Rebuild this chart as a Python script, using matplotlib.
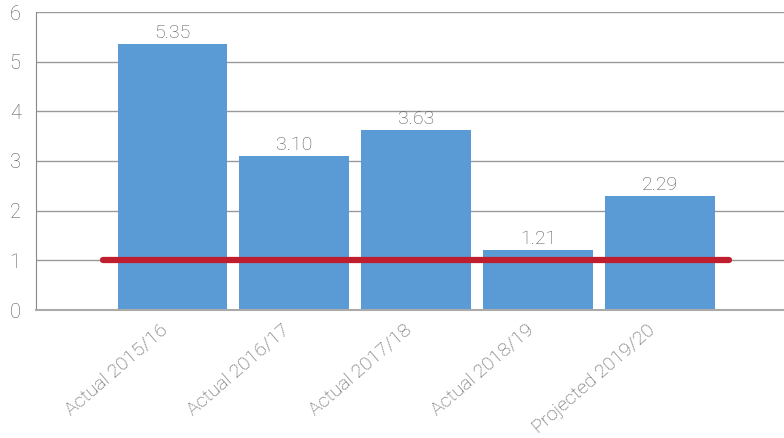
import numpy as np
import matplotlib.pyplot as plt
import matplotlib.transforms as mtransforms

# chart data
categories = ["Actual 2015/16", "Actual 2016/17", "Actual 2017/18",
              "Actual 2018/19", "Projected 2019/20"]
values = [5.35, 3.10, 3.63, 1.21, 2.29]
threshold = 1.0
yticks = [0, 1, 2, 3, 4, 5, 6]

plt.rcParams['font.family'] = ['Roboto', 'DejaVu Sans']
plt.rcParams['font.weight'] = 'light'
txt_col = '#5a5a5a'

W, H = 784, 438
fig = plt.figure(figsize=(W / 100, H / 100), dpi=100)
ax = fig.add_axes([36 / W, (H - 310) / H, (W - 36) / W, 298 / H])

x = np.arange(len(categories))
ax.bar(x, values, width=0.9, color='#5b9bd5', zorder=2)

# threshold line
ax.plot([-0.574, 4.566], [threshold, threshold], color='#be1e2d', lw=4.5,
        solid_capstyle='round', zorder=3)

# value labels above bars
for xi, v in zip(x, values):
    ax.annotate("%.2f" % v, (xi, v), xytext=(0, 1.5), textcoords='offset points',
                ha='center', va='bottom', fontsize=14, color=txt_col,
                fontweight='light')

ax.set_xlim(-1.12, 5.02)
ax.set_ylim(0, 6)
ax.set_yticks(yticks)
ax.yaxis.grid(True, color='#999999', lw=1, zorder=1)
ax.set_axisbelow(True)

for s in ['top', 'right']:
    ax.spines[s].set_visible(False)
ax.spines['left'].set_color('#888888')
ax.spines['bottom'].set_color('#aaaaaa')
ax.spines['bottom'].set_linewidth(1.5)

ax.tick_params(axis='y', length=0, pad=11, labelsize=14.5, labelcolor=txt_col)
ax.tick_params(axis='x', length=0, pad=6, labelsize=14, labelcolor=txt_col)
ax.set_xticks(x)
ax.set_xticklabels(categories, rotation=41, ha='right', rotation_mode='anchor')
offset = mtransforms.ScaledTranslation(-0.13, -0.025, fig.dpi_scale_trans)
for lbl in ax.get_xticklabels():
    lbl.set_transform(lbl.get_transform() + offset)

fig.savefig("out.png", dpi=100)
